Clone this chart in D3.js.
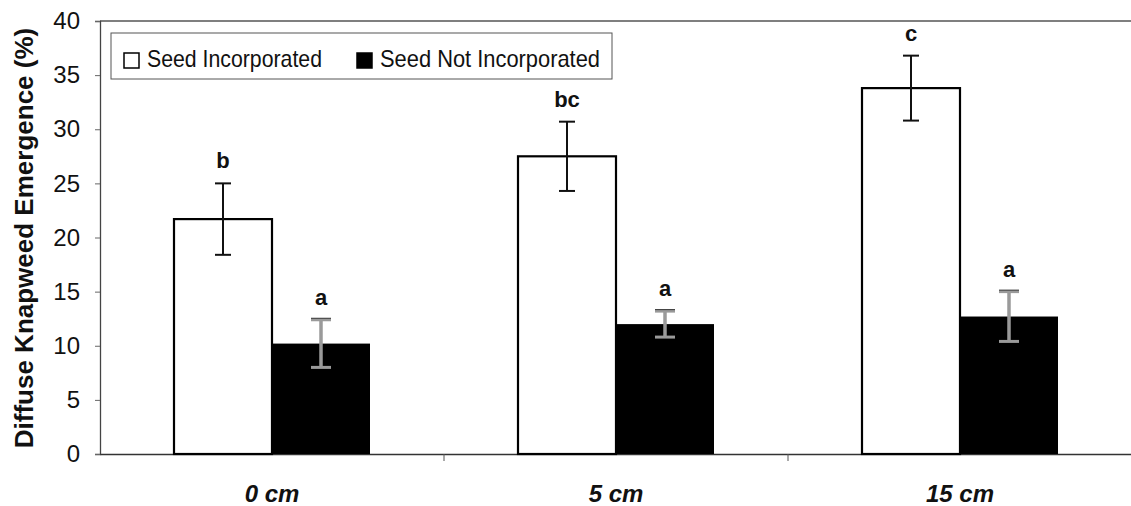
<!doctype html>
<html>
<head>
<meta charset="utf-8">
<script src="https://d3js.org/d3.v7.min.js"></script>
<style>
  body { margin: 0; background: #fff; }
  text { font-family: "Liberation Sans", Arial, sans-serif; }
</style>
</head>
<body>
<svg id="chart" width="1131" height="506"></svg>
<script>
// data
const depths = ["0 cm", "5 cm", "15 cm"];
const series = ["Seed Incorporated", "Seed Not Incorporated"];
const incorporated = [21.7, 27.5, 33.8];
const incorporatedErr = [3.3, 3.2, 3.0];
const notIncorporated = [10.2, 12.0, 12.7];
const notIncorporatedErr = [2.2, 1.2, 2.3];
const lettersInc = ["b", "bc", "c"];
const lettersNot = ["a", "a", "a"];
const yTicks = [0, 5, 10, 15, 20, 25, 30, 35, 40];

const rows = depths.map((d, i) => ({
  depth: d,
  vals: [
    { s: series[0], v: incorporated[i], e: incorporatedErr[i], l: lettersInc[i] },
    { s: series[1], v: notIncorporated[i], e: notIncorporatedErr[i], l: lettersNot[i] }
  ]
}));

const svg = d3.select("#chart");
const mLeft = 100, mRight = 1132, mTop = 21, mBottom = 454;

const x0 = d3.scaleBand().domain(depths).range([mLeft, mRight]);
const bw = x0.bandwidth();
const barW = 98;
const x1 = d3.scaleBand().domain(series).range([bw / 2 - barW, bw / 2 + barW]);
const y = d3.scaleLinear().domain([0, 40]).range([mBottom, mTop]);

// frame
svg.append("line").attr("x1", mLeft).attr("x2", mRight).attr("y1", mTop).attr("y2", mTop)
  .attr("stroke", "#555").attr("stroke-width", 1.3);

// y axis
const yAxis = svg.append("g").attr("transform", `translate(${mLeft},0)`)
  .call(d3.axisLeft(y).tickValues(yTicks).tickSize(5).tickPadding(15));
yAxis.select(".domain").attr("stroke", "#444").attr("stroke-width", 1.3);
yAxis.selectAll(".tick line").attr("stroke", "#666");
yAxis.selectAll(".tick text").attr("font-size", 24).attr("fill", "#111")
  .attr("font-family", "Liberation Sans, Arial, sans-serif");

// x axis
const xAxis = svg.append("g").attr("transform", `translate(0,${mBottom})`)
  .call(d3.axisBottom(x0).tickSize(0).tickPadding(31));
xAxis.select(".domain").attr("stroke", "#333").attr("stroke-width", 1.5);
xAxis.selectAll(".tick text").attr("font-size", 24).attr("font-weight", "bold")
  .attr("font-style", "italic").attr("fill", "#111")
  .attr("font-family", "Liberation Sans, Arial, sans-serif");
// group separators
svg.append("g").selectAll("line").data(depths.slice(1)).join("line")
  .attr("x1", d => x0(d)).attr("x2", d => x0(d))
  .attr("y1", mBottom).attr("y2", mBottom + 7)
  .attr("stroke", "#555");

// y title
svg.append("text")
  .attr("transform", "translate(33,238) rotate(-90)")
  .attr("text-anchor", "middle")
  .attr("font-size", 26).attr("font-weight", "bold").attr("fill", "#111")
  .text("Diffuse Knapweed Emergence (%)");

// bars
const groups = svg.append("g").selectAll("g").data(rows).join("g")
  .attr("transform", d => `translate(${x0(d.depth)},0)`);

groups.selectAll("rect").data(d => d.vals).join("rect")
  .attr("x", d => x1(d.s))
  .attr("y", d => y(d.v))
  .attr("width", x1.bandwidth())
  .attr("height", d => y(0) - y(d.v))
  .attr("fill", (d, i) => i === 0 ? "#fff" : "#000")
  .attr("stroke", "#000")
  .attr("stroke-width", (d, i) => i === 0 ? 2.2 : 0);

// error bars
const eb = groups.selectAll("g.err").data(d => d.vals).join("g").attr("class", "err");
eb.each(function(d, i) {
  const g = d3.select(this);
  const cx = x1(d.s) + x1.bandwidth() / 2;
  const col = i === 0 ? "#111" : "#9a9a9a";
  const sw = i === 0 ? 2 : 3.5;
  const cap = i === 0 ? 8 : 10;
  g.append("line").attr("x1", cx).attr("x2", cx)
    .attr("y1", y(d.v + d.e)).attr("y2", y(d.v - d.e))
    .attr("stroke", col).attr("stroke-width", sw);
  [d.v + d.e, d.v - d.e].forEach(v => {
    g.append("line").attr("x1", cx - cap).attr("x2", cx + cap)
      .attr("y1", y(v)).attr("y2", y(v))
      .attr("stroke", col).attr("stroke-width", i === 0 ? 2 : 3);
  });
  if (i === 1) {
    // dark edge on the grey cap above the bar
    g.append("line").attr("x1", cx - cap).attr("x2", cx + cap)
      .attr("y1", y(d.v + d.e) - 1.5).attr("y2", y(d.v + d.e) - 1.5)
      .attr("stroke", "#333").attr("stroke-width", 1);
  }
  g.append("text").attr("x", cx).attr("y", y(d.v + d.e) - 15)
    .attr("text-anchor", "middle").attr("font-size", 22).attr("font-weight", "bold")
    .attr("fill", "#111").text(d.l);
});

// legend
const lg = svg.append("g");
lg.append("rect").attr("x", 111).attr("y", 33).attr("width", 501).attr("height", 46)
  .attr("fill", "#fff").attr("stroke", "#555").attr("stroke-width", 1);
const items = [
  { s: series[0], x: 124, fill: "#fff", len: 175 },
  { s: series[1], x: 357, fill: "#000", len: 220 }
];
items.forEach(it => {
  lg.append("rect").attr("x", it.x).attr("y", 53).attr("width", 15).attr("height", 15)
    .attr("fill", it.fill).attr("stroke", "#000").attr("stroke-width", 1.5);
  lg.append("text").attr("x", it.x + 23).attr("y", 67)
    .attr("font-size", 24).attr("fill", "#111")
    .attr("textLength", it.len).attr("lengthAdjust", "spacingAndGlyphs")
    .text(it.s);
});
</script>
</body>
</html>
